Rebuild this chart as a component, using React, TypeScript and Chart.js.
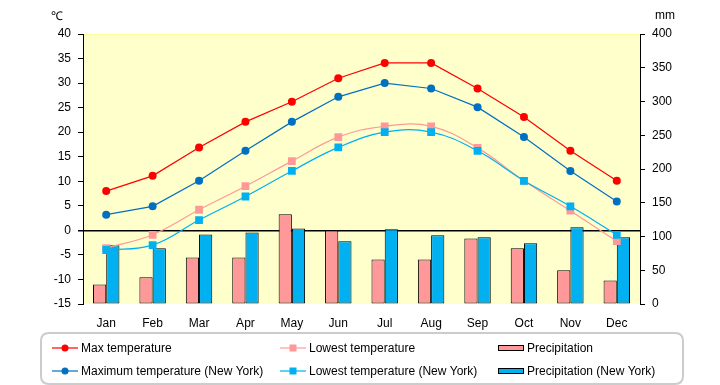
import React, { useEffect, useRef } from "react";
import { Chart, registerables } from "chart.js";

Chart.register(...registerables);

const months = ["Jan", "Feb", "Mar", "Apr", "May", "Jun", "Jul", "Aug", "Sep", "Oct", "Nov", "Dec"];
const maxTemp = [8.0, 11.1, 16.9, 22.1, 26.2, 31.0, 34.1, 34.1, 28.9, 23.1, 16.2, 10.1];
const lowTemp = [-3.6, -0.9, 4.2, 9.0, 14.1, 19.0, 21.2, 21.2, 16.8, 10.1, 4.0, -2.2];
const precip = [29, 39.5, 69, 69, 133, 109, 66, 66, 97, 82.5, 50, 35];
const maxTempNY = [3.2, 4.9, 10.1, 16.2, 22.1, 27.2, 30.0, 28.9, 25.1, 19.0, 12.1, 5.9];
const lowTempNY = [-4.0, -3.0, 2.1, 6.9, 12.1, 16.9, 20.0, 20.0, 16.2, 10.1, 4.9, -0.9];
const precipNY = [87, 82.5, 103, 106, 112, 93, 110.6, 102, 99, 90, 113.6, 99];
const tempTicks = { min: -15, max: 40, step: 5 };
const mmTicks = { min: 0, max: 400, step: 50 };

const FONT = "'Liberation Sans', Arial, sans-serif";

const bgPlugin = {
  id: "bg",
  beforeDraw(chart: any) {
    const { ctx, chartArea } = chart;
    ctx.save();
    ctx.fillStyle = "#FFFFCC";
    ctx.fillRect(chartArea.left, chartArea.top, chartArea.right - chartArea.left, chartArea.bottom - chartArea.top);
    ctx.strokeStyle = "#FFFF99";
    ctx.lineWidth = 1;
    ctx.beginPath();
    ctx.moveTo(chartArea.left, chartArea.top + 0.5);
    ctx.lineTo(chartArea.right, chartArea.top + 0.5);
    ctx.stroke();
    ctx.restore();
  },
};

const legendPlugin = {
  id: "customLegend",
  afterDraw(chart: any) {
    const { ctx } = chart;
    const ds = chart.data.datasets;
    ctx.save();
    ctx.fillStyle = "#000";
    ctx.font = `12px ${FONT}`;
    ctx.textBaseline = "middle";
    ctx.textAlign = "center";
    ctx.fillText("℃", 57, 17);
    ctx.fillText("mm", 665, 16);

    // box
    const bx = 41, by = 333, bw = 642, bh = 51, r = 8;
    ctx.strokeStyle = "#CCCCCC";
    ctx.lineWidth = 2;
    ctx.beginPath();
    ctx.moveTo(bx + r, by);
    ctx.lineTo(bx + bw - r, by);
    ctx.quadraticCurveTo(bx + bw, by, bx + bw, by + r);
    ctx.lineTo(bx + bw, by + bh - r);
    ctx.quadraticCurveTo(bx + bw, by + bh, bx + bw - r, by + bh);
    ctx.lineTo(bx + r, by + bh);
    ctx.quadraticCurveTo(bx, by + bh, bx, by + bh - r);
    ctx.lineTo(bx, by + r);
    ctx.quadraticCurveTo(bx, by, bx + r, by);
    ctx.stroke();

    const cols = [52, 280, 498];
    const rows = [348, 371];
    const layout = [
      [0, 0, 0],
      [1, 1, 0],
      [2, 2, 0],
      [3, 0, 1],
      [4, 1, 1],
      [5, 2, 1],
    ];
    ctx.textAlign = "left";
    layout.forEach(([i, c, rr]) => {
      const d = ds[i];
      const x = cols[c];
      const y = rows[rr];
      if (d.type === "bar") {
        ctx.fillStyle = d.backgroundColor;
        ctx.fillRect(x, y - 3, 26, 6);
        ctx.strokeStyle = "#000";
        ctx.lineWidth = 1;
        ctx.strokeRect(x + 0.5, y - 2.5, 25, 5);
      } else {
        ctx.strokeStyle = d.borderColor;
        ctx.lineWidth = 1.2;
        ctx.beginPath();
        ctx.moveTo(x, y);
        ctx.lineTo(x + 26, y);
        ctx.stroke();
        ctx.fillStyle = d.pointBackgroundColor;
        if (d.pointStyle === "rect") {
          ctx.fillRect(x + 13 - 3.5, y - 3.5, 7, 7);
        } else {
          ctx.beginPath();
          ctx.arc(x + 13, y, 3.5, 0, Math.PI * 2);
          ctx.fill();
        }
      }
      ctx.fillStyle = "#000";
      ctx.fillText(d.label, x + 29, y + 1);
    });
    ctx.restore();
  },
};

export default function App() {
  const ref = useRef<HTMLCanvasElement>(null);
  useEffect(() => {
    document.body.style.margin = "0";
    const canvas = ref.current!;
    const lineDs = (label: string, data: number[], color: string, style: string, smooth: boolean, order: number) => ({
      type: "line" as const,
      label,
      data,
      yAxisID: "yT",
      borderColor: color,
      backgroundColor: color,
      pointBackgroundColor: color,
      pointBorderColor: color,
      pointBorderWidth: 0,
      borderWidth: 1.2,
      pointStyle: style,
      pointRadius: style === "rect" ? 5.5 : 4,
      tension: smooth ? 0.4 : 0,
      order,
    });
    const chart = new Chart(canvas, {
      data: {
        labels: months,
        datasets: [
          lineDs("Max temperature", maxTemp, "#FF0000", "circle", false, 4),
          lineDs("Lowest temperature", lowTemp, "#FF9999", "rect", true, 3),
          {
            type: "bar",
            label: "Precipitation",
            data: precip,
            yAxisID: "yP",
            backgroundColor: "#FF9999",
            borderColor: "#000",
            borderWidth: 1,
            borderSkipped: false,
            order: 10,
          } as any,
          lineDs("Maximum temperature (New York)", maxTempNY, "#0070C0", "circle", false, 2),
          lineDs("Lowest temperature (New York)", lowTempNY, "#00B0F0", "rect", true, 1),
          {
            type: "bar",
            label: "Precipitation (New York)",
            data: precipNY,
            yAxisID: "yP",
            backgroundColor: "#00B0F0",
            borderColor: "#000",
            borderWidth: 1,
            borderSkipped: false,
            order: 10,
          } as any,
        ],
      },
      options: {
        animation: false,
        responsive: false,
        maintainAspectRatio: false,
        layout: { padding: { top: 34, left: 0, right: 0, bottom: 0 } },
        datasets: { bar: { barPercentage: 1, categoryPercentage: 0.57 } } as any,
        plugins: { legend: { display: false }, tooltip: { enabled: false } },
        scales: {
          x: {
            grid: { display: false },
            border: { display: false },
            ticks: { color: "#000", font: { family: FONT, size: 12 }, padding: 4 },
            afterFit(scale: any) {
              scale.height = 81;
            },
          },
          yT: {
            position: "left",
            min: tempTicks.min,
            max: tempTicks.max,
            ticks: { stepSize: tempTicks.step, color: "#000", font: { family: FONT, size: 12 }, padding: 7 },
            grid: {
              drawOnChartArea: true,
              color: (c: any) => (c.tick && c.tick.value === 0 ? "#000" : "rgba(0,0,0,0)"),
              lineWidth: (c: any) => (c.tick && c.tick.value === 0 ? 1.5 : 1),
              tickColor: "#000",
              tickLength: 5,
            },
            border: { display: true, color: "#000", width: 1 },
            afterFit(scale: any) {
              scale.width = 83;
            },
          },
          yP: {
            position: "right",
            min: mmTicks.min,
            max: mmTicks.max,
            ticks: { stepSize: mmTicks.step, color: "#000", font: { family: FONT, size: 12 }, padding: 7 },
            grid: { drawOnChartArea: false, tickColor: "#000", tickLength: 5 },
            border: { display: true, color: "#000", width: 1 },
            afterFit(scale: any) {
              scale.width = 80;
            },
          },
        },
      },
      plugins: [bgPlugin, legendPlugin],
    });
    return () => chart.destroy();
  }, []);
  return (
    <div style={{ position: "fixed", left: 0, top: 0, width: 720, height: 385 }}>
      <canvas ref={ref} width={720} height={385} style={{ display: "block", width: 720, height: 385 }} />
    </div>
  );
}
